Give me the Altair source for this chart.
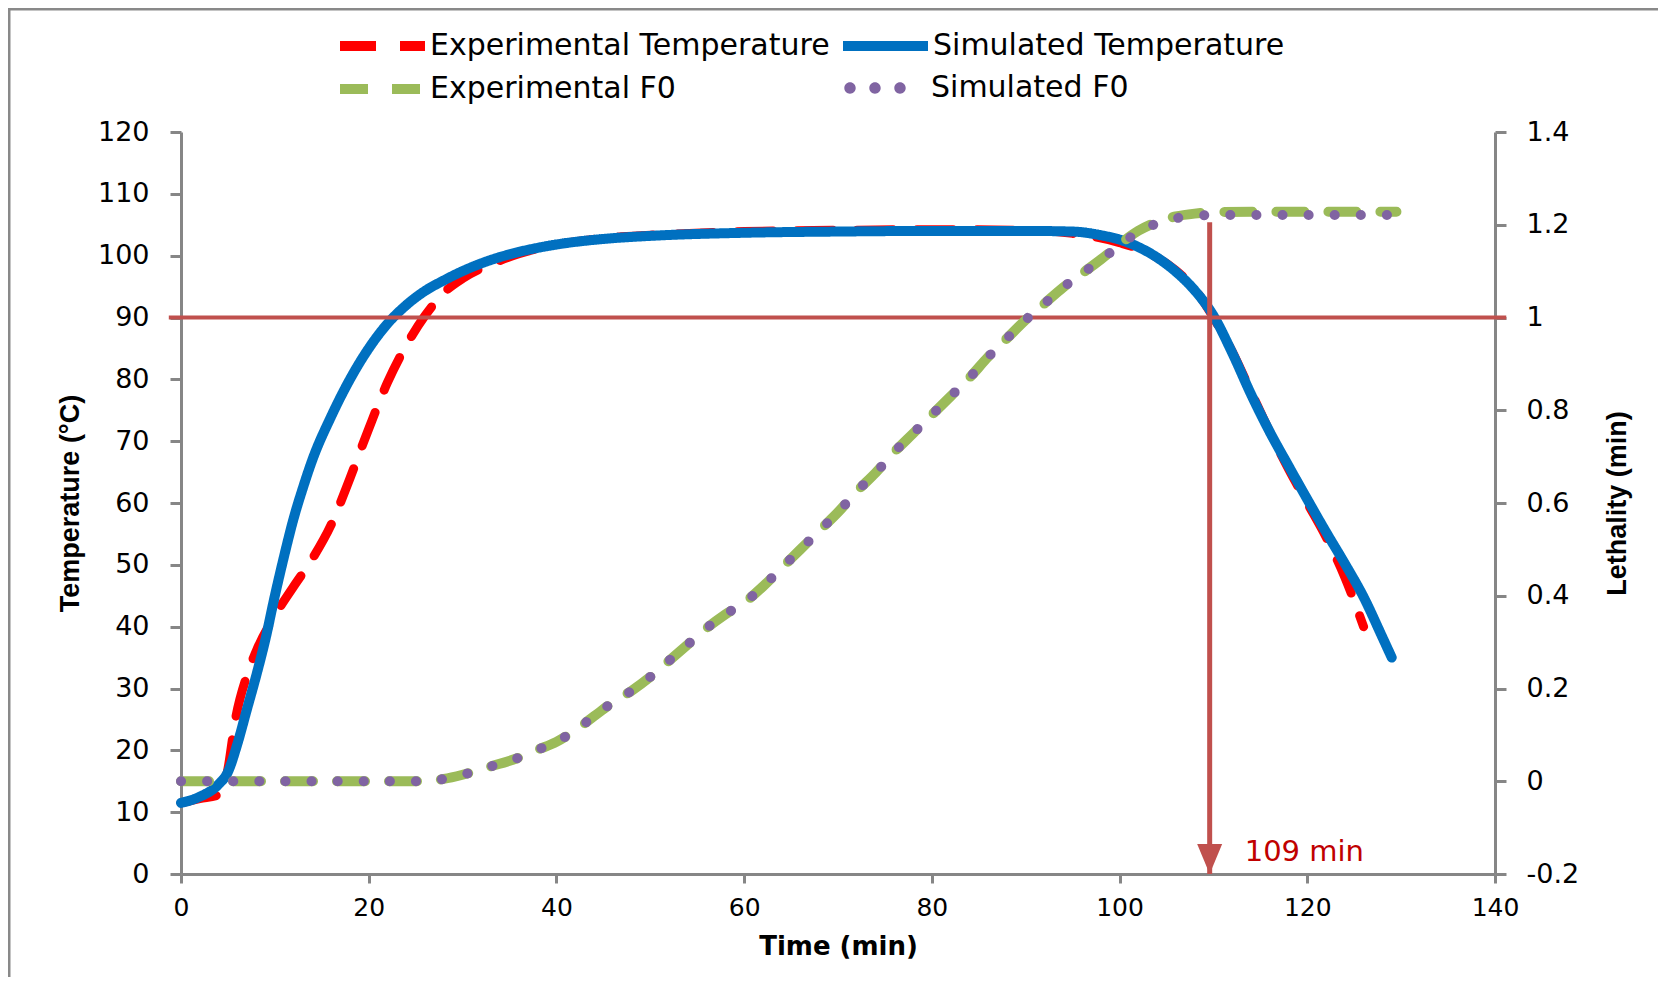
import altair as alt
import pandas as pd

# ---------------- data ----------------
series_names = ["Experimental Temperature", "Simulated Temperature", "Experimental F0", "Simulated F0"]
series_colors = ["#FF0000", "#0070C0", "#9BBB59", "#8064A2"]
series_dashes = [[36, 24], [1, 0], [28, 24], [0.1, 26]]

exp_time = [0, 2, 4, 4.5, 5, 5.8, 7, 8, 10, 12, 14, 16, 18, 20, 22, 24, 26, 28, 30, 33, 36, 40, 45, 50,
            60, 70, 80, 90, 95, 100, 103, 106, 108, 110, 112, 114, 116, 118, 120, 122, 124, 126]
exp_temp = [11.5, 12.2, 12.8, 13.8, 17, 25, 32, 36, 41.8, 46.5, 51, 56.5, 64, 72, 79.5, 85.5, 90.3, 94,
            96.3, 98.6, 100.3, 101.8, 102.8, 103.3, 103.9, 104.1, 104.2, 104.1, 103.6, 102.1, 100.5,
            97.6, 94.6, 90, 84.5, 78, 71.5, 65.5, 60, 54.5, 48, 40]

sim_time = [0, 2, 4, 5, 6, 7, 8, 9, 10, 11, 12, 13, 14, 16, 18, 20, 22, 24, 26, 28, 30, 33, 36, 40, 45, 50,
            60, 70, 80, 90, 95, 98, 100, 102, 104, 106, 108, 110, 112, 114, 116, 118, 120, 122, 124, 126,
            128, 129]
sim_temp = [11.5, 12.5, 14.5, 16.5, 21, 26.5, 32, 38, 45, 51.5, 57.5, 62.5, 67, 74, 80, 85, 89, 92, 94.3,
            96, 97.5, 99.3, 100.6, 101.8, 102.7, 103.2, 103.7, 103.9, 104, 104, 103.9, 103.3, 102.6,
            101.4, 99.7, 97.4, 94.4, 90.3, 84.3, 77.6, 71.5, 66, 60.6, 55.3, 50.2, 44.8, 38.3, 35]

f0_time = [0, 5, 10, 15, 20, 25, 28, 30, 33, 36, 38, 40, 42, 44, 46, 48, 50, 52, 54, 56, 58, 60, 62, 64,
           66, 68, 70, 72, 74, 76, 78, 80, 82, 84, 86, 88, 90, 92, 94, 96, 98, 100, 102, 104, 106, 108,
           110, 115, 120, 125, 129.5]
exp_f0 = [0, 0, 0, 0, 0, 0, 0.005, 0.014, 0.032, 0.051, 0.068, 0.085, 0.11, 0.14, 0.17, 0.195, 0.225,
          0.26, 0.295, 0.33, 0.36, 0.385, 0.42, 0.46, 0.5, 0.54, 0.58, 0.625, 0.665, 0.71, 0.75, 0.79,
          0.83, 0.87, 0.915, 0.955, 0.995, 1.03, 1.065, 1.095, 1.125, 1.158, 1.187, 1.206, 1.218, 1.224,
          1.227, 1.228, 1.228, 1.228, 1.228]
sim_f0 = [0, 0, 0, 0, 0, 0, 0.005, 0.014, 0.032, 0.051, 0.068, 0.085, 0.11, 0.14, 0.17, 0.195, 0.225,
          0.26, 0.295, 0.33, 0.36, 0.385, 0.42, 0.46, 0.5, 0.54, 0.58, 0.625, 0.665, 0.71, 0.75, 0.79,
          0.83, 0.87, 0.915, 0.955, 0.995, 1.03, 1.065, 1.095, 1.124, 1.156, 1.184, 1.203, 1.214, 1.219,
          1.221, 1.221, 1.221, 1.221, 1.221]

time_ticks = [0, 20, 40, 60, 80, 100, 120, 140]
temp_ticks = [0, 10, 20, 30, 40, 50, 60, 70, 80, 90, 100, 110, 120]
leth_ticks = [-0.2, 0, 0.2, 0.4, 0.6, 0.8, 1, 1.2, 1.4]

threshold_temp = 90
threshold_span = [-1.3, 141.2]
hold_time = 109.6
hold_top_temp = 105.4
hold_label = "109 min"

# ---------------- tables ----------------
exp_df = pd.DataFrame({"time": exp_time, "temp": exp_temp, "series": series_names[0]})
sim_df = pd.DataFrame({"time": sim_time, "temp": sim_temp, "series": series_names[1]})
ef0_df = pd.DataFrame({"time": f0_time, "f0": exp_f0, "series": series_names[2]})
sf0_df = pd.DataFrame({"time": f0_time, "f0": sim_f0, "series": series_names[3]})
thr_df = pd.DataFrame({"time": [threshold_span[0]], "time2": [threshold_span[1]], "temp": [threshold_temp]})
arr_df = pd.DataFrame({"time": [hold_time], "temp": [hold_top_temp], "temp2": [0], "label": [hold_label]})
frame_df = pd.DataFrame({"k": [0]})

W, H = 1314, 742
RED = "#C0504D"
PURPLE = series_colors[3]
LEG_FONT = "DejaVu Sans"
LEG_SIZE = 30

# legend symbol paths (unit box scaled by sqrt(symbolSize)/2)
line_sym = "M-1.333,0H4.333"
r = 0.38
dots_sym = "".join(
    f"M{cx - r:.3f},0a{r},{r} 0 1,0 {2 * r:.3f},0a{r},{r} 0 1,0 {-2 * r:.3f},0Z" for cx in (-0.333, 1.333, 3.0)
)

x_enc = alt.X("time:Q", scale=alt.Scale(domain=[0, 140], nice=False),
              axis=alt.Axis(values=time_ticks, tickSize=9, labelPadding=12, labelFlush=False,
                            labelFontSize=25,
                            title="Time (min)", titleY=72, titleBaseline="middle",
                            titleFont="DejaVu Sans", titleFontSize=26, titleFontWeight="bold"))
y_temp = alt.Y("temp:Q", scale=alt.Scale(domain=[0, 120], nice=False),
               axis=alt.Axis(values=temp_ticks, orient="left", tickSize=11, labelPadding=21,
                             labelFontSize=27,
                             title="Temperature (°C)", titleX=-111, titleY=371, titleAngle=270,
                             titleBaseline="middle", titleFont="Liberation Sans",
                             titleFontSize=27, titleFontWeight="bold"))
y_f0 = alt.Y("f0:Q", scale=alt.Scale(domain=[-0.2, 1.4], nice=False),
             axis=alt.Axis(values=leth_ticks, orient="right", tickSize=11, labelPadding=20,
                           labelFontSize=27,
                           labelExpr="datum.value < 0 ? '-' + format(-datum.value, '.1~f') : format(datum.value, '.1~f')",
                           title="Lethality (min)", titleX=122, titleY=371, titleAngle=270,
                           titleBaseline="middle", titleFont="Liberation Sans",
                           titleFontSize=27, titleFontWeight="bold"))

legend = alt.Legend(title=None, orient="none", legendX=159, legendY=-106, columns=2, direction="horizontal",
                    symbolType=line_sym, symbolSize=900, symbolStrokeWidth=10,
                    labelFont=LEG_FONT, labelFontSize=LEG_SIZE, labelColor="black",
                    labelOffset=50, columnPadding=-7, rowPadding=3, labelLimit=800)
color_enc = alt.Color("series:N", scale=alt.Scale(domain=series_names[:3], range=series_colors[:3]),
                      legend=legend)
dash_enc = alt.StrokeDash("series:N", scale=alt.Scale(domain=series_names[:3], range=series_dashes[:3]),
                          legend=legend)

frame = alt.Chart(frame_df).mark_rect(filled=False, stroke="#898989", strokeWidth=3).encode(
    x=alt.value(-172), x2=alt.value(W + 400), y=alt.value(-123), y2=alt.value(H + 400))

red = alt.Chart(exp_df).mark_line(strokeWidth=9, strokeCap="round", strokeJoin="round",
                                  interpolate="monotone").encode(
    x=x_enc, y=y_temp, color=color_enc, strokeDash=dash_enc)
blue = alt.Chart(sim_df).mark_line(strokeWidth=10, strokeCap="round", strokeJoin="round",
                                   interpolate="monotone").encode(
    x=x_enc, y=y_temp, color=color_enc, strokeDash=dash_enc)
thr = alt.Chart(thr_df).mark_rule(color=RED, strokeWidth=4).encode(
    x=x_enc, x2="time2:Q", y=y_temp)
arrow = alt.Chart(arr_df).mark_rule(color=RED, strokeWidth=5).encode(
    x=x_enc, y=y_temp, y2="temp2:Q")
head = alt.Chart(arr_df).mark_point(shape="M-0.833,-1L0.833,-1L0,1Z", size=900, filled=True,
                                    fill=RED, opacity=1, strokeWidth=0, yOffset=-15).encode(
    x=x_enc, y=alt.Y("temp2:Q", scale=alt.Scale(domain=[0, 120], nice=False)))
label = alt.Chart(arr_df).mark_text(align="left", baseline="middle", dx=35, dy=-22, color="#C00000",
                                    font="DejaVu Sans", fontSize=29).encode(
    x=x_enc, y=alt.Y("temp2:Q", scale=alt.Scale(domain=[0, 120], nice=False)), text="label:N")

# tiny hidden point that only carries the "Simulated F0" legend entry (three round dots)
proxy = alt.Chart(sf0_df.head(1)).mark_point(filled=True, size=1, color=PURPLE, opacity=1,
                                             strokeWidth=0).encode(
    x=x_enc, y=y_f0,
    shape=alt.Shape("series:N", scale=alt.Scale(domain=[series_names[3]], range=[dots_sym]),
                    legend=alt.Legend(title=None, orient="none", legendX=659, legendY=-59,
                                      symbolSize=900, symbolStrokeWidth=0, symbolFillColor=PURPLE,
                                      labelFont=LEG_FONT, labelFontSize=LEG_SIZE, labelColor="black",
                                      labelOffset=61, labelLimit=800)))
green = alt.Chart(ef0_df).mark_line(strokeWidth=10, strokeCap="round", strokeJoin="round",
                                    interpolate="monotone").encode(
    x=x_enc, y=y_f0, color=color_enc, strokeDash=dash_enc)
purple = alt.Chart(sf0_df).mark_line(strokeWidth=10, strokeCap="round", strokeJoin="round",
                                     interpolate="monotone", color=PURPLE,
                                     strokeDash=series_dashes[3]).encode(
    x=x_enc, y=y_f0)

temp_layer = alt.layer(frame, red, blue, thr, arrow, head, label)
f0_layer = alt.layer(proxy, green, purple)

chart = alt.layer(temp_layer, f0_layer).resolve_scale(y="independent").properties(
    width=W, height=H,
    autosize=alt.AutoSizeParams(type="none"),
    padding={"left": 173, "top": 124, "right": 163, "bottom": 103},
).configure_view(strokeWidth=0).configure_axis(
    domainColor="#868686", domainWidth=3, tickColor="#868686", tickWidth=3,
    labelFont="DejaVu Sans", labelFontSize=25, labelColor="black", grid=False,
    titleColor="black", labelOverlap=False
)

chart.save("out.html", embed_options={"renderer": "svg", "actions": False})
